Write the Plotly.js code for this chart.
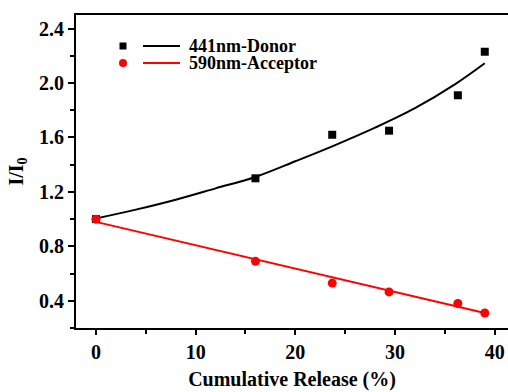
<!DOCTYPE html>
<html>
<head>
<meta charset="utf-8">
<script src="https://cdn.plot.ly/plotly-3.0.1.min.js"></script>
<style>html,body{margin:0;padding:0;background:#fff;}#chart{width:508px;height:392px;}</style>
</head>
<body>
<div id="chart"></div>
<script>
// Measured data
const releaseX = [0, 16.0, 23.7, 29.4, 36.3, 39.0];
const donorY = [1.00, 1.30, 1.62, 1.65, 1.91, 2.23];
const acceptorY = [1.00, 0.69, 0.53, 0.465, 0.38, 0.31];
// Fit curves
const donorFitX = [0, 4, 8, 12, 16, 20, 24, 28, 32, 36, 39];
const donorFitY = [1.005, 1.07, 1.143, 1.226, 1.31, 1.425, 1.544, 1.672, 1.815, 1.99, 2.145];
const acceptorFitX = [0, 39];
const acceptorFitY = [0.98, 0.31];
const seriesNames = ['441nm-Donor', '590nm-Acceptor'];
const xTitle = 'Cumulative Release (%)';
const yTitle = 'I/I<sub>0</sub>';

const FONT = 'Liberation Serif';
const traces = [
  {x: donorFitX, y: donorFitY, mode: 'lines', line: {color: '#000', width: 2, shape: 'spline'}, showlegend: false, hoverinfo: 'skip'},
  {x: acceptorFitX, y: acceptorFitY, mode: 'lines', line: {color: '#ff0000', width: 2}, showlegend: false, hoverinfo: 'skip'},
  {x: releaseX, y: donorY, mode: 'markers', name: seriesNames[0], marker: {symbol: 'square', size: 8, color: '#000'}, showlegend: false},
  {x: releaseX, y: acceptorY, mode: 'markers', name: seriesNames[1], marker: {symbol: 'circle', size: 9, color: '#ff0000'}, showlegend: false}
];

const W = 432, H = 313, L = 76, T = 15;
const px = v => (v - L) / W;
const py = v => (T + H - v) / H;

const shapes = [
  {type: 'rect', xref: 'paper', yref: 'paper', x0: px(119.5), x1: px(126.5), y0: py(49.5), y1: py(42.5), fillcolor: '#000', line: {width: 0}},
  {type: 'line', xref: 'paper', yref: 'paper', x0: px(143), x1: px(180), y0: py(46), y1: py(46), line: {color: '#000', width: 2}},
  {type: 'circle', xref: 'paper', yref: 'paper', x0: px(119), x1: px(127), y0: py(67), y1: py(59), fillcolor: '#ff0000', line: {width: 0}},
  {type: 'line', xref: 'paper', yref: 'paper', x0: px(143), x1: px(180), y0: py(63), y1: py(63), line: {color: '#ff0000', width: 2}}
];
const annotations = [
  {xref: 'paper', yref: 'paper', x: px(187), y: py(46), xanchor: 'left', yanchor: 'middle', text: seriesNames[0], showarrow: false, font: {family: FONT, size: 18, weight: 'bold', color: '#000'}},
  {xref: 'paper', yref: 'paper', x: px(187), y: py(63), xanchor: 'left', yanchor: 'middle', text: seriesNames[1], showarrow: false, font: {family: FONT, size: 18, weight: 'bold', color: '#000'}}
];

const layout = {
  width: 508, height: 392,
  margin: {l: L, r: 0, t: T, b: 64},
  paper_bgcolor: '#fff', plot_bgcolor: '#fff',
  showlegend: false,
  font: {family: FONT, color: '#000'},
  xaxis: {
    range: [-2, 41.33], showgrid: false, zeroline: false,
    showline: true, linecolor: '#000', linewidth: 2, mirror: true,
    ticks: 'outside', ticklen: 5, tickwidth: 2, tickcolor: '#000',
    tick0: 0, dtick: 10,
    minor: {dtick: 5, ticks: 'outside', ticklen: 4, tickwidth: 2, tickcolor: '#000'},
    tickfont: {family: FONT, size: 20, weight: 'bold'},
    title: {text: xTitle, font: {family: FONT, size: 20, weight: 'bold'}, standoff: 10}
  },
  yaxis: {
    range: [0.2, 2.5], showgrid: false, zeroline: false,
    showline: true, linecolor: '#000', linewidth: 2, mirror: false,
    ticks: 'outside', ticklen: 6, tickwidth: 2, tickcolor: '#000',
    tick0: 0, dtick: 0.4, tickformat: '.1f',
    minor: {dtick: 0.2, ticks: 'outside', ticklen: 4, tickwidth: 2, tickcolor: '#000'},
    tickfont: {family: FONT, size: 20, weight: 'bold'},
    title: {text: yTitle, font: {family: FONT, size: 20, weight: 'bold'}, standoff: 10}
  },
  shapes: shapes,
  annotations: annotations
};

Plotly.newPlot('chart', traces, layout, {displayModeBar: false, staticPlot: true});
</script>
</body>
</html>
